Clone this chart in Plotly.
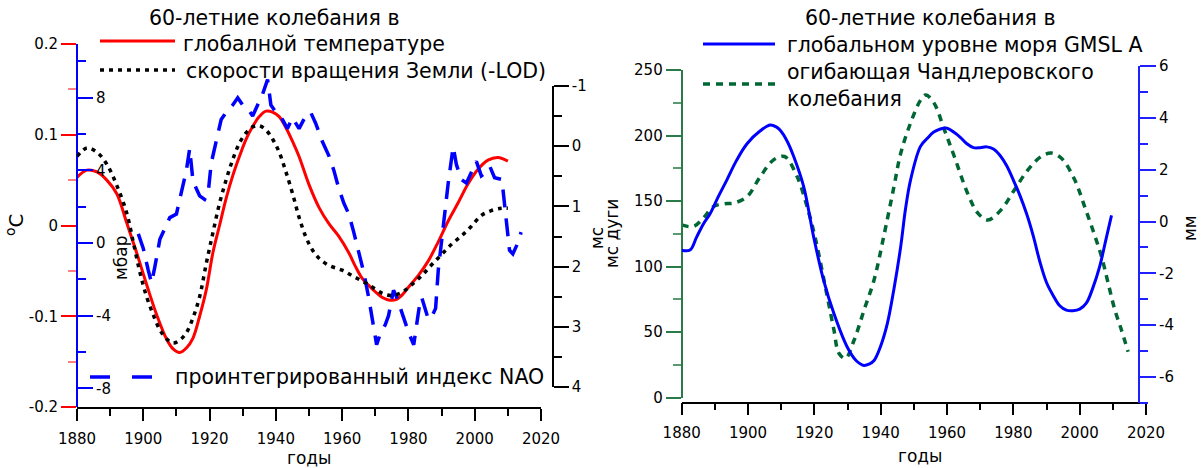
import plotly.graph_objects as go

W, H = 1201, 468
def px(x): return x / W
def py(y): return 1 - y / H

# ---------------- data: left panel ----------------
temp_years = [1880, 1883, 1886, 1889, 1892, 1895, 1898, 1901, 1904, 1907, 1909, 1911, 1913, 1915,
              1917, 1919, 1921, 1923, 1925, 1927, 1929, 1931, 1933, 1935, 1937, 1939, 1941, 1943,
              1945, 1947, 1950, 1953, 1956, 1959, 1962, 1964, 1966, 1968, 1970, 1972, 1974, 1976,
              1978, 1980, 1983, 1986, 1989, 1992, 1995, 1998, 2001, 2004, 2007, 2010]
temp_vals = [0.053, 0.061, 0.059, 0.05, 0.035, 0.003, -0.03, -0.065, -0.098, -0.125, -0.136, -0.14,
             -0.135, -0.124, -0.1, -0.071, -0.03, 0.0, 0.03, 0.055, 0.076, 0.095, 0.109, 0.12,
             0.126, 0.125, 0.12, 0.108, 0.093, 0.076, 0.045, 0.02, 0.002, -0.012, -0.03, -0.045,
             -0.058, -0.066, -0.073, -0.079, -0.082, -0.082, -0.077, -0.068, -0.055, -0.039,
             -0.018, 0.005, 0.025, 0.046, 0.062, 0.072, 0.075, 0.071]

lod_years = [1880, 1883, 1886, 1889, 1892, 1895, 1897, 1899, 1901, 1903, 1905, 1907, 1909, 1911,
             1913, 1915, 1917, 1919, 1921, 1923, 1925, 1927, 1929, 1931, 1933, 1935, 1937, 1939,
             1941, 1943, 1945, 1947, 1949, 1951, 1953, 1956, 1960, 1964, 1968, 1972, 1975, 1978,
             1981, 1984, 1987, 1990, 1993, 1996, 1999, 2002, 2005, 2008, 2010]
lod_vals = [0.17, 0.03, 0.1, 0.3, 0.65, 1.11, 1.6, 2.1, 2.5, 2.8, 3.05, 3.2, 3.27, 3.22, 3.1, 2.85,
            2.5, 1.95, 1.44, 0.95, 0.56, 0.22, -0.05, -0.22, -0.32, -0.34, -0.27, -0.12, 0.1, 0.42,
            0.78, 1.18, 1.5, 1.72, 1.86, 1.98, 2.06, 2.18, 2.3, 2.44, 2.48, 2.43, 2.3, 2.15, 1.97,
            1.8, 1.63, 1.49, 1.33, 1.15, 1.07, 1.03, 1.03]

nao_years = [1898.5, 1900, 1901.5, 1902.5, 1903.5, 1905, 1906.5, 1908, 1910, 1911.5, 1913, 1914,
             1915, 1917, 1918.5, 1919.6, 1920.5, 1922, 1923.5, 1925, 1927, 1928.5, 1930, 1931.5,
             1933, 1934.5, 1936, 1937.5, 1938.5, 1940, 1942, 1943.5, 1945, 1947, 1949, 1950.5,
             1952, 1954, 1956, 1957.5, 1959, 1960.5, 1962, 1963.5, 1965, 1966.5, 1968, 1969.2,
             1970.4, 1971.5, 1973, 1974, 1975.5, 1976.5, 1978.5, 1980, 1981.6, 1982.3, 1983.2,
             1984, 1985.2, 1986, 1987.2, 1988.2, 1989, 1990, 1991, 1992, 1993.5, 1994.5, 1996,
             1997.5, 1999, 2000.5, 2002, 2003.5, 2004.6, 2006, 2008.2, 2009, 2010, 2010.5,
             2011.5, 2013, 2014]
nao_vals = [0.5, -0.3, -1.5, -2.2, -1.3, 0.2, 0.8, 1.4, 1.6, 2.8, 4.0, 5.2, 3.4, 2.6, 2.4, 2.8,
            4.4, 5.6, 6.8, 7.2, 7.6, 8.0, 7.6, 7.4, 7.0, 7.6, 8.2, 9.0, 7.6, 7.2, 6.8, 6.3, 6.9,
            6.3, 7.0, 7.2, 6.6, 5.6, 4.8, 4.0, 3.0, 2.2, 1.6, 0.6, -0.5, -1.6, -3.0, -4.4, -5.6,
            -5.0, -4.5, -4.0, -2.6, -3.0, -4.1, -4.9, -5.6, -4.8, -3.6, -3.0, -3.8, -4.2, -4.0,
            -3.6, -1.5, 0.2, 1.8, 3.3, 5.3, 4.3, 3.5, 3.3, 3.9, 4.5, 3.7, 3.9, 4.2, 3.6, 3.5,
            2.2, 0.6, -0.4, -0.6, 0.0, 0.6]

# ---------------- data: right panel ----------------
gmsl_years = [1880, 1882.5, 1884.5, 1886.5, 1888.6, 1891, 1893.6, 1896.5, 1899.7, 1903.7, 1906.7,
              1908.5, 1909.7, 1911.8, 1913.8, 1916.8, 1919.8, 1922.8, 1925.9, 1929.9, 1932.5,
              1934.9, 1936.5, 1938, 1940, 1942, 1944, 1946, 1947.5, 1949, 1952, 1954, 1956, 1958,
              1960, 1962, 1964, 1966, 1968, 1970, 1972, 1974, 1976, 1978, 1980, 1982, 1984, 1986,
              1988, 1990, 1992, 1994, 1996, 1998, 2000, 2002, 2004, 2006, 2008, 2009.6]
gmsl_vals = [-1.11, -1.1, -0.6, -0.1, 0.31, 0.95, 1.6, 2.35, 3.0, 3.5, 3.72, 3.65, 3.52, 3.1, 2.5,
             1.34, -0.6, -2.27, -3.55, -4.84, -5.35, -5.55, -5.5, -5.36, -4.8, -3.94, -2.6, -1.0,
             0.5, 1.6, 2.9, 3.2, 3.45, 3.57, 3.6, 3.45, 3.25, 3.0, 2.85, 2.85, 2.88, 2.8, 2.55,
             2.15, 1.6, 1.0, 0.3, -0.55, -1.55, -2.35, -2.85, -3.25, -3.42, -3.44, -3.38, -3.15,
             -2.55, -1.75, -0.65, 0.24]

chandler_years = [1880, 1883.5, 1886.5, 1889.6, 1893, 1895.6, 1899.7, 1903.7, 1907.7, 1911,
                  1914.8, 1917.8, 1920.3, 1923.9, 1925.9, 1927.4, 1929.4, 1932, 1935, 1938, 1941,
                  1944, 1946, 1949, 1952.1, 1953.6, 1956.1, 1959.2, 1962.2, 1966.2, 1969.3,
                  1972.3, 1976.3, 1980.3, 1984.4, 1988.4, 1991.4, 1994.5, 1998.5, 2001.5, 2004.5,
                  2006.6, 2008.6, 2010.6, 2012.6, 2014.6]
chandler_vals = [131.8, 130.6, 137, 145.8, 148, 148.4, 153.4, 168.7, 181.4, 184, 168.7, 145.8,
                 121.5, 77.1, 51.7, 33.9, 30, 44, 67, 89.8, 124, 161, 186, 209.5, 227.3, 231,
                 224.7, 204.4, 184, 156, 140.8, 135.6, 143.3, 158.5, 173.8, 184, 186.6, 182.7,
                 166.2, 145.8, 124, 107.6, 87.3, 67, 51.7, 35.1]

# ---------------- ticks ----------------
year_ticks = [1880, 1900, 1920, 1940, 1960, 1980, 2000, 2020]
year_text = ["1880", "1900", "1920", "1940", "1960", "1980", "2000", "2020"]
temp_ticks = [-0.2, -0.1, 0, 0.1, 0.2]
temp_text = ["-0.2", "-0.1", "0", "0.1", "0.2"]
mbar_ticks = [-8, -4, 0, 4, 8]
mbar_text = ["-8", "-4", "0", "4", "8"]
lod_ticks = [-1, 0, 1, 2, 3, 4]
lod_text = ["-1", "0", "1", "2", "3", "4"]
arc_ticks = [0, 50, 100, 150, 200, 250]
arc_text = ["0", "50", "100", "150", "200", "250"]
mm_ticks = [-6, -4, -2, 0, 2, 4, 6]
mm_text = ["-6", "-4", "-2", "0", "2", "4", "6"]

FONT = "DejaVu Sans"
TICKFONT = dict(family=FONT, size=15, color="black")
RED = "#ff0000"
BLUE = "#0000ff"
GREEN_AX = "#2a7a4a"
GREEN = "#006633"

fig = go.Figure()

fig.add_trace(go.Scatter(x=nao_years, y=nao_vals, xaxis="x2", yaxis="y2", mode="lines",
                         line=dict(color=BLUE, width=3.5, dash="18px,11px")))
fig.add_trace(go.Scatter(x=lod_years, y=lod_vals, xaxis="x3", yaxis="y3", mode="lines",
                         line=dict(color="black", width=3.5, dash="4px,5px", shape="spline")))
fig.add_trace(go.Scatter(x=temp_years, y=temp_vals, xaxis="x", yaxis="y", mode="lines",
                         line=dict(color=RED, width=3, shape="spline")))
fig.add_trace(go.Scatter(x=chandler_years, y=chandler_vals, xaxis="x4", yaxis="y4", mode="lines",
                         line=dict(color=GREEN, width=3.5, dash="7px,6px", shape="spline")))
fig.add_trace(go.Scatter(x=gmsl_years, y=gmsl_vals, xaxis="x5", yaxis="y5", mode="lines",
                         line=dict(color=BLUE, width=3, shape="spline")))

common = dict(showgrid=False, zeroline=False, tickfont=TICKFONT, automargin=False)
xl_dom = [px(77), px(541)]
xr_dom = [px(681.7), px(1146)]
yl_dom = [py(407), py(44)]

fig.update_layout(
    width=W, height=H, margin=dict(l=0, r=0, t=0, b=0, autoexpand=False),
    paper_bgcolor="white", plot_bgcolor="rgba(0,0,0,0)",
    showlegend=False, font=dict(family=FONT, color="black"),
    xaxis=dict(domain=xl_dom, range=[1880, 2020], anchor="y", showline=True, linecolor="black",
               linewidth=1.5, ticks="outside", ticklen=12, tickcolor="black", tickwidth=1.5,
               tickvals=year_ticks, ticktext=year_text, ticklabelstandoff=5,
               minor=dict(dtick=10, tick0=1880, ticks="outside", ticklen=7, tickcolor="black",
                          tickwidth=1.5), **common),
    yaxis=dict(domain=yl_dom, range=[-0.2, 0.2], anchor="x", side="left",
               showline=False, ticks="outside", ticklen=15, tickcolor=RED, tickwidth=1.5,
               tickvals=temp_ticks, ticktext=temp_text,
               minor=dict(dtick=0.05, tick0=0, ticks="outside", ticklen=8, tickcolor="#ff8080",
                          tickwidth=1.5), **common),
    xaxis2=dict(domain=xl_dom, range=[1880, 2020], anchor="y2", visible=False),
    yaxis2=dict(domain=yl_dom, range=[-9.03, 10.96], anchor="free", position=px(77), side="right",
                showline=True, linecolor=BLUE, linewidth=2, ticks="outside", ticklen=15,
                tickcolor=BLUE, tickwidth=1.5, tickvals=mbar_ticks, ticktext=mbar_text,
                minor=dict(dtick=2, tick0=0, ticks="outside", ticklen=8, tickcolor=BLUE,
                           tickwidth=1.5), **common),
    xaxis3=dict(domain=xl_dom, range=[1880, 2020], anchor="y3", visible=False),
    yaxis3=dict(domain=[py(387), py(86)], range=[4, -1], anchor="free", position=px(553),
                side="right", showline=True, linecolor="black", linewidth=1.5, ticks="outside",
                ticklen=15, tickcolor="black", tickwidth=1.5, tickvals=lod_ticks, ticktext=lod_text,
                minor=dict(dtick=0.5, tick0=0, ticks="outside", ticklen=8, tickcolor="black",
                           tickwidth=1.5), **common),
    xaxis4=dict(domain=xr_dom, range=[1880, 2020], anchor="free", position=py(402.7),
                showline=True, linecolor="black", linewidth=1.5, ticks="outside", ticklen=12,
                tickcolor="black", tickwidth=1.5, tickvals=year_ticks, ticktext=year_text,
                ticklabelstandoff=5,
                minor=dict(dtick=10, tick0=1880, ticks="outside", ticklen=7, tickcolor="black",
                           tickwidth=1.5), **common),
    yaxis4=dict(domain=[py(397.7), py(70)], range=[0, 250], anchor="free", position=px(681.7),
                side="left", showline=True, linecolor=GREEN_AX, linewidth=2, ticks="outside",
                ticklen=15, tickcolor=GREEN_AX, tickwidth=1.5, tickvals=arc_ticks, ticktext=arc_text,
                minor=dict(dtick=25, tick0=0, ticks="outside", ticklen=8, tickcolor="#5a9a70",
                           tickwidth=1.5), **common),
    xaxis5=dict(domain=xr_dom, range=[1880, 2020], anchor="y5", visible=False),
    yaxis5=dict(domain=[py(403), py(66)], range=[-7, 6], anchor="free", position=px(1139),
                side="right", showline=True, linecolor="#2020ff", linewidth=2, ticks="outside",
                ticklen=16, tickcolor="#2020ff", tickwidth=1.5, tickvals=mm_ticks, ticktext=mm_text,
                minor=dict(dtick=1, tick0=0, ticks="outside", ticklen=8, tickcolor="#2020ff",
                           tickwidth=1.5), **common),
)

LEG = dict(family=FONT, size=20.5, color="black")
AX = dict(family=FONT, size=17, color="black")

def ann(x, y, text, font, xanchor="left", angle=0, align="left"):
    fig.add_annotation(x=px(x), y=py(y), xref="paper", yref="paper", text=text, showarrow=False,
                       xanchor=xanchor, yanchor="middle", font=font, textangle=angle, align=align)

def sample(x0, x1, y, color, width, dash):
    fig.add_shape(type="line", xref="paper", yref="paper", x0=px(x0), x1=px(x1), y0=py(y), y1=py(y),
                  line=dict(color=color, width=width, dash=dash))

# left legend
ann(147, 18, "60-летние колебания в", LEG)
sample(100, 175, 41, RED, 3, "solid")
ann(181, 44, "глобалной температуре", LEG)
sample(100, 175, 70, "black", 3.5, "4px,5px")
ann(184, 71, "скорости вращения Земли (-LOD)", LEG)
sample(90, 158, 377, BLUE, 3.5, "20px,22px")
ann(173, 377, "проинтегрированный индекс NAO", LEG)

# right legend
ann(803, 18, "60-летние колебания в", LEG)
sample(703, 775, 44, BLUE, 3, "solid")
ann(785, 45, "глобальном уровне моря GMSL A", LEG)
sample(703, 778, 84, GREEN, 3.5, "7px,6px")
ann(785, 85, "огибающая Чандлеровского<br>колебания", LEG)

# axis titles
ann(15, 225, "<sup>o</sup>C", dict(family=FONT, size=20, color="black"), xanchor="center", angle=-90)
ann(121, 258, "мбар", AX, xanchor="center", angle=-90)
ann(597, 238, "мс", AX, xanchor="center", angle=-90)
ann(309, 458, "годы", AX, xanchor="center")
ann(612, 234, "мс дуги", AX, xanchor="center", angle=-90)
ann(1190, 228, "мм", AX, xanchor="center", angle=-90)
ann(920, 456, "годы", AX, xanchor="center")

fig.write_html("out.html")
